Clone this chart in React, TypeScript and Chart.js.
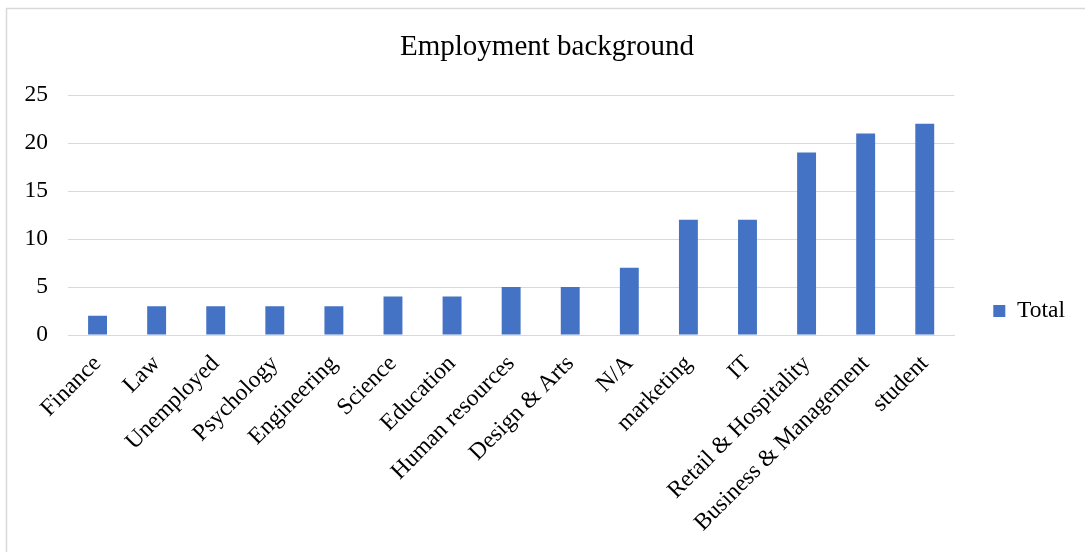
import React, { useEffect, useRef } from "react";
import { Chart, registerables } from "chart.js";

Chart.register(...registerables);

const categories = [
  "Finance",
  "Law",
  "Unemployed",
  "Psychology",
  "Engineering",
  "Science",
  "Education",
  "Human resources",
  "Design & Arts",
  "N/A",
  "marketing",
  "IT",
  "Retail & Hospitality",
  "Business & Management",
  "student",
];
const totals = [2, 3, 3, 3, 3, 4, 4, 5, 5, 7, 12, 12, 19, 21, 22];
const seriesName = "Total";
const chartTitle = "Employment background";

const FONT = "'Liberation Serif', 'Times New Roman', serif";

const borderPlugin = {
  id: "outerBorder",
  afterDraw(chart: any) {
    const ctx = chart.ctx;
    ctx.save();
    ctx.strokeStyle = "#d9d9d9";
    ctx.lineWidth = 1.5;
    ctx.strokeRect(6.5, 8.5, 3000, 3000);
    ctx.restore();
  },
};

export default function App() {
  const ref = useRef<HTMLCanvasElement | null>(null);
  useEffect(() => {
    if (!ref.current) return;
    const chart = new Chart(ref.current, {
      type: "bar",
      data: {
        labels: categories,
        datasets: [
          {
            label: seriesName,
            data: totals,
            backgroundColor: "#4472C4",
            borderColor: "#5b84cc",
            borderWidth: 0,
            categoryPercentage: 1,
            barPercentage: 0.32,
          },
        ],
      },
      options: {
        animation: false,
        responsive: false,
        layout: { padding: { left: 19, top: 8, right: 10, bottom: 0 } },
        plugins: {
          title: {
            display: true,
            text: chartTitle,
            color: "#000",
            font: { family: FONT, size: 29, weight: "normal" },
            padding: { top: 21.8, bottom: 30.4 },
          },
          legend: {
            display: true,
            position: "right",
            title: {
              display: true,
              text: "",
              font: { size: 10 },
              padding: { top: 50, bottom: 0 },
            },
            labels: {
              color: "#000",
              font: { family: FONT, size: 23.5 },
              boxWidth: 12,
              boxHeight: 12,
              padding: 39,
            },
          },
          tooltip: { enabled: false },
        },
        scales: {
          x: {
            grid: { display: false, drawTicks: false },
            border: { display: true, color: "#d9d9d9", width: 1 },
            ticks: {
              color: "#000",
              font: { family: FONT, size: 23.5 },
              maxRotation: 45,
              minRotation: 45,
              autoSkip: false,
              padding: 15,
            },
            afterFit(scale: any) {
              scale.height = 217;
              scale.paddingLeft = 0;
              scale.paddingRight = 0;
            },
          },
          y: {
            min: 0,
            max: 25,
            grid: { color: "#d9d9d9", lineWidth: 1, drawTicks: false },
            border: { display: false },
            ticks: {
              stepSize: 5,
              color: "#000",
              font: { family: FONT, size: 23.5 },
              padding: 20,
            },
            afterFit(scale: any) {
              scale.width = 49;
            },
          },
        },
      },
      plugins: [borderPlugin],
    });
    return () => chart.destroy();
  }, []);
  return (
    <div style={{ position: "fixed", left: 0, top: 0, width: 1085, height: 552, background: "#fff" }}>
      <canvas ref={ref} width={1085} height={552} style={{ display: "block" }} />
    </div>
  );
}
